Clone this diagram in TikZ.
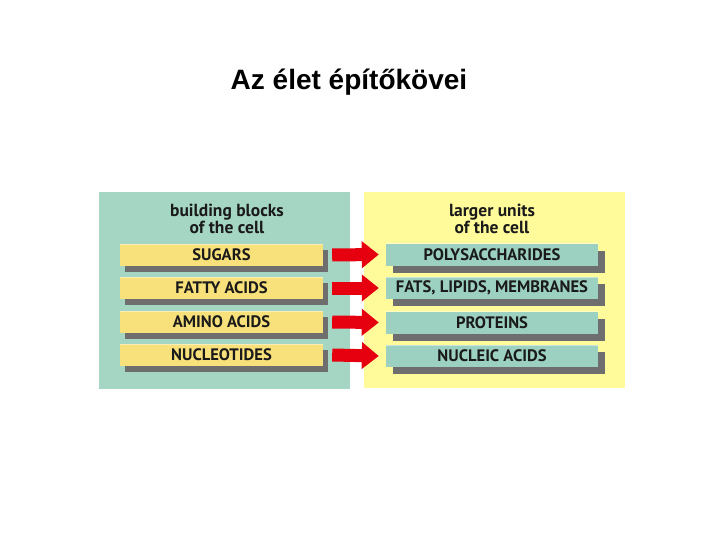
\documentclass[tikz,border=0pt]{standalone}
\usepackage{fontspec}
\setmainfont{Liberation Sans}
\newfontfamily\boxfont{PT Sans}
\usetikzlibrary{arrows.meta,shadows}
\definecolor{panelteal}{HTML}{A5D6C4}
\definecolor{panelyellow}{HTML}{FFFB9A}
\definecolor{boxyellow}{HTML}{F8E07A}
\definecolor{boxteal}{HTML}{9CD0C0}
\definecolor{shadowgray}{HTML}{6E6E6E}
\definecolor{arrowred}{HTML}{E6000F}
\definecolor{labeltext}{HTML}{1A1A1A}
\tikzset{
  blockbase/.style={draw=none, minimum height=22pt, inner sep=0pt,
    font=\boxfont\bfseries\fontsize{16.6}{16.6}\selectfont, text=labeltext,
    path picture={\draw[line width=1.6pt, white, opacity=.45]
      (path picture bounding box.north west) -- (path picture bounding box.north east);}},
  leftblock/.style={blockbase, fill=boxyellow, minimum width=203pt,
    drop shadow={shadow xshift=5pt, shadow yshift=-6pt, fill=shadowgray, opacity=1}},
  rightblock/.style={blockbase, fill=boxteal, minimum width=212pt,
    drop shadow={shadow xshift=7pt, shadow yshift=-7pt, fill=shadowgray, opacity=1}},
  header/.style={align=center, font=\boxfont\bfseries\fontsize{17.5}{16}\selectfont, text=labeltext},
  conv/.style={draw=arrowred, line width=13pt, -{Triangle[width=26pt,length=17pt]}, arrowred}
}
\begin{document}
\begin{tikzpicture}[x=1pt,y=-1pt]
\useasboundingbox[fill=white] (0,0) rectangle (720,540);
\node[font=\bfseries\fontsize{28}{28}\selectfont, anchor=base] (title) at (349,90) {Az élet építőkövei};
\fill[panelteal] (99,192) rectangle (350,389);
\fill[panelyellow] (364,192) rectangle (625,388);
\node[header] (lh) at (227,219) {building blocks\\of the cell};
\node[header] (rh) at (492,219) {larger units\\of the cell};
\node[leftblock] (s1) at (221.5,255) {SUGARS};
\node[leftblock] (s2) at (221.5,288) {FATTY ACIDS};
\node[leftblock] (s3) at (221.5,322) {AMINO ACIDS};
\node[leftblock] (s4) at (221.5,355) {NUCLEOTIDES};
\node[rightblock] (p1) at (492,254.5) {POLYSACCHARIDES};
\node[rightblock] (p2) at (492,288) {FATS, LIPIDS, MEMBRANES};
\node[rightblock] (p3) at (492,322.5) {PROTEINS};
\node[rightblock] (p4) at (492,356) {NUCLEIC ACIDS};
\foreach \i in {1,...,4}{
  \draw[conv] ([xshift=9pt]s\i.east) -- ([xshift=-7pt]p\i.west);
}
\end{tikzpicture}
\end{document}
